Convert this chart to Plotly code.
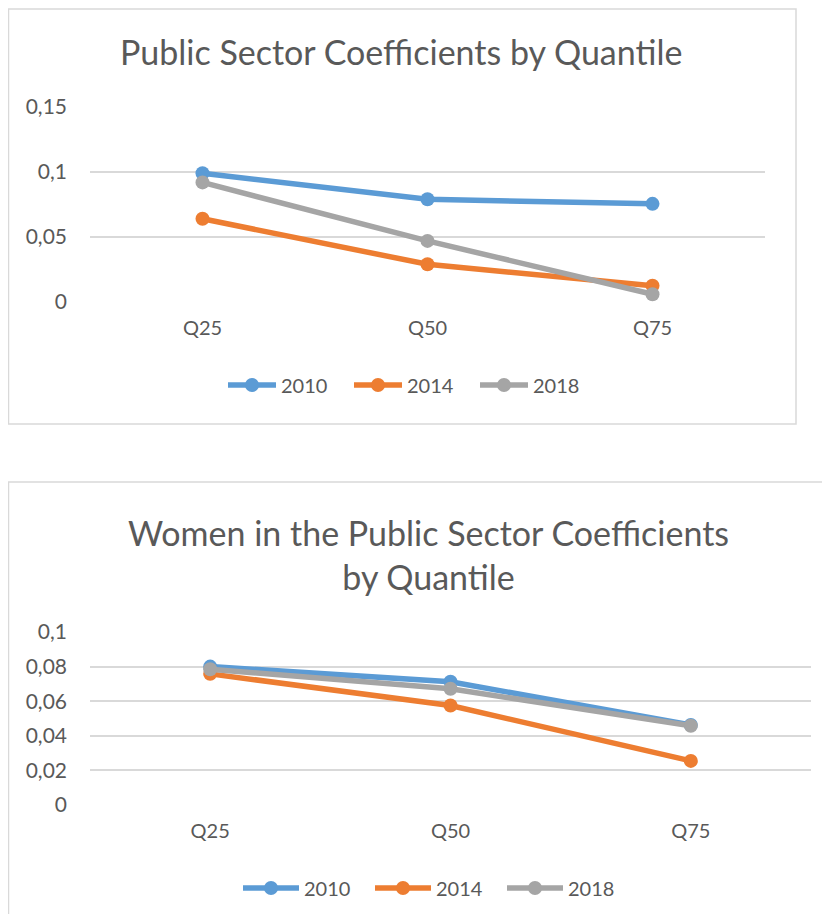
import plotly.graph_objects as go

# page body has an 8px default margin, so the figure is made 16px smaller
# and reference pixel positions are shifted by 8px
OFF = 8
W, H = 830 - 2 * OFF, 922 - 2 * OFF

categories = ["Q25", "Q50", "Q75"]
series_names = ["2010", "2014", "2018"]

# Chart 1: Public Sector Coefficients by Quantile
public_2010 = [0.099, 0.079, 0.0755]
public_2014 = [0.064, 0.029, 0.0125]
public_2018 = [0.092, 0.047, 0.006]

# Chart 2: Women in the Public Sector Coefficients by Quantile
women_2010 = [0.080, 0.0712, 0.0462]
women_2014 = [0.0758, 0.0575, 0.0255]
women_2018 = [0.0785, 0.0672, 0.0458]

y1_tickvals = [0, 0.05, 0.1, 0.15]
y1_ticktext = ["0", "0,05", "0,1", "0,15"]
y2_tickvals = [0, 0.02, 0.04, 0.06, 0.08, 0.1]
y2_ticktext = ["0", "0,02", "0,04", "0,06", "0,08", "0,1"]

colors = ["#5B9BD5", "#ED7D31", "#A5A5A5"]
FONT = "Lato"
TXT = "#595959"
GRID = "#D9D9D9"


def px_x(x):
    return (x - OFF) / W


def px_y(y):
    return 1 - (y - OFF) / H


fig = go.Figure()

for name, vals, c in zip(series_names, [public_2010, public_2014, public_2018], colors):
    fig.add_trace(go.Scatter(
        x=categories, y=vals, name=name, mode="lines+markers",
        line=dict(color=c, width=5.5), marker=dict(color=c, size=14),
        xaxis="x", yaxis="y", legend="legend", cliponaxis=False,
    ))

for name, vals, c in zip(series_names, [women_2010, women_2014, women_2018], colors):
    fig.add_trace(go.Scatter(
        x=categories, y=vals, name=name, mode="lines+markers",
        line=dict(color=c, width=5.5), marker=dict(color=c, size=14),
        xaxis="x2", yaxis="y2", legend="legend2", cliponaxis=False,
    ))

axis_common_x = dict(
    type="category", range=[-0.5, 2.5], showgrid=False, zeroline=False,
    showline=False, ticks="", tickfont=dict(family=FONT, size=20, color=TXT),
    ticklabelstandoff=12, fixedrange=True, automargin=False,
)
axis_common_y = dict(
    showgrid=True, gridcolor=GRID, gridwidth=1.5, zeroline=False, showline=False,
    ticks="", tickfont=dict(family=FONT, size=21, color=TXT),
    ticklabelstandoff=22, fixedrange=True, automargin=False,
)

legend_common = dict(
    orientation="h", xanchor="left", yanchor="middle",
    font=dict(family=FONT, size=20, color=TXT),
    bgcolor="rgba(0,0,0,0)", tracegroupgap=0, entrywidthmode="pixels",
)

fig.update_layout(
    width=W, height=H,
    margin=dict(l=0, r=0, t=0, b=0, pad=0, autoexpand=False),
    paper_bgcolor="white", plot_bgcolor="white",
    font=dict(family=FONT, color=TXT),
    xaxis=dict(domain=[px_x(90), px_x(765)], anchor="y", **axis_common_x),
    yaxis=dict(domain=[px_y(302), px_y(107)], anchor="x", range=[0, 0.15],
               tickvals=y1_tickvals, ticktext=y1_ticktext, **axis_common_y),
    xaxis2=dict(domain=[px_x(90), px_x(811)], anchor="y2", **axis_common_x),
    yaxis2=dict(domain=[px_y(805), px_y(632)], anchor="x2", range=[0, 0.1],
                tickvals=y2_tickvals, ticktext=y2_ticktext, **axis_common_y),
    legend=dict(x=px_x(223), y=px_y(385), itemwidth=48, entrywidth=63, **legend_common),
    legend2=dict(x=px_x(238), y=px_y(888), itemwidth=56, entrywidth=61, **legend_common),
    showlegend=True,
    annotations=[
        dict(text="Public Sector Coefficients by Quantile", x=px_x(401), y=px_y(51),
             xref="paper", yref="paper", showarrow=False, xanchor="center",
             yanchor="middle", font=dict(family=FONT, size=34, color=TXT)),
        dict(text="Women in the Public Sector Coefficients<br>by Quantile",
             x=px_x(428), y=px_y(554), xref="paper", yref="paper", showarrow=False,
             xanchor="center", yanchor="middle",
             font=dict(family=FONT, size=34, color=TXT)),
    ],
    shapes=[
        dict(type="rect", xref="paper", yref="paper",
             x0=px_x(8.5), x1=px_x(796), y0=px_y(424), y1=px_y(9),
             line=dict(color=GRID, width=1.5), fillcolor="rgba(0,0,0,0)", layer="below"),
        dict(type="rect", xref="paper", yref="paper",
             x0=px_x(8.5), x1=px_x(840), y0=px_y(940), y1=px_y(482),
             line=dict(color=GRID, width=1.5), fillcolor="rgba(0,0,0,0)", layer="below"),
    ],
)

fig.write_html("out.html")
